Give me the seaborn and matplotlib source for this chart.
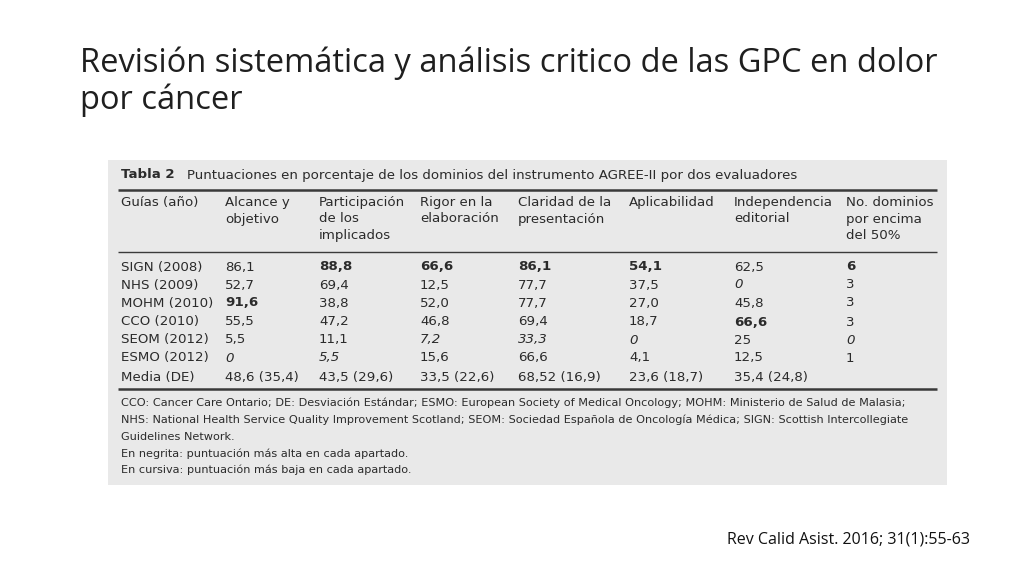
import matplotlib
matplotlib.use("Agg")
import matplotlib.pyplot as plt
from matplotlib.patches import Rectangle
from matplotlib import font_manager
import seaborn as sns

sns.set_theme(style="white")

names = {f.name for f in font_manager.fontManager.ttflist}
TFONT = "Liberation Sans Narrow" if "Liberation Sans Narrow" in names else "DejaVu Sans"
HFONT = "Open Sans" if "Open Sans" in names else "DejaVu Sans"

title = "Revisión sistemática y análisis critico de las GPC en dolor\npor cáncer"
citation = "Rev Calid Asist. 2016; 31(1):55-63"
caption_bold = "Tabla 2"
caption = "Puntuaciones en porcentaje de los dominios del instrumento AGREE-II por dos evaluadores"

headers = ["Guías (año)", "Alcance y\nobjetivo", "Participación\nde los\nimplicados",
           "Rigor en la\nelaboración", "Claridad de la\npresentación", "Aplicabilidad",
           "Independencia\neditorial", "No. dominios\npor encima\ndel 50%"]
guias = ["SIGN (2008)", "NHS (2009)", "MOHM (2010)", "CCO (2010)", "SEOM (2012)", "ESMO (2012)", "Media (DE)"]
alcance = ["86,1", "52,7", "91,6", "55,5", "5,5", "0", "48,6 (35,4)"]
participacion = ["88,8", "69,4", "38,8", "47,2", "11,1", "5,5", "43,5 (29,6)"]
rigor = ["66,6", "12,5", "52,0", "46,8", "7,2", "15,6", "33,5 (22,6)"]
claridad = ["86,1", "77,7", "77,7", "69,4", "33,3", "66,6", "68,52 (16,9)"]
aplicabilidad = ["54,1", "37,5", "27,0", "18,7", "0", "4,1", "23,6 (18,7)"]
independencia = ["62,5", "0", "45,8", "66,6", "25", "12,5", "35,4 (24,8)"]
dominios = ["6", "3", "3", "3", "0", "1", ""]
# (column, row) of bold (highest) and italic (lowest) cells
bold_cells = [(1, 2), (2, 0), (3, 0), (4, 0), (5, 0), (6, 3), (7, 0)]
italic_cells = [(1, 5), (2, 5), (3, 4), (4, 4), (5, 4), (6, 1), (7, 4)]
footnotes = [
    "CCO: Cancer Care Ontario; DE: Desviación Estándar; ESMO: European Society of Medical Oncology; MOHM: Ministerio de Salud de Malasia;",
    "NHS: National Health Service Quality Improvement Scotland; SEOM: Sociedad Española de Oncología Médica; SIGN: Scottish Intercollegiate",
    "Guidelines Network.",
    "En negrita: puntuación más alta en cada apartado.",
    "En cursiva: puntuación más baja en cada apartado.",
]

columns = [guias, alcance, participacion, rigor, claridad, aplicabilidad, independencia, dominios]

fig = plt.figure(figsize=(10.24, 5.76), dpi=100)
fig.patch.set_facecolor("white")
ax = fig.add_axes([0, 0, 1, 1])
ax.set_xlim(0, 1024)
ax.set_ylim(576, 0)
ax.axis("off")

ax.text(80, 47, title, fontsize=23.5, fontfamily=HFONT, color="#1f1f1f", va="top",
        linespacing=1.12)
ax.text(970, 540, citation, fontsize=11.5, fontfamily=HFONT, color="#111111", ha="right", va="center")

ax.add_patch(Rectangle((108, 160), 839, 325, facecolor="#e9e9e9", edgecolor="none"))
for y, lw in [(190, 1.8), (252, 1.0), (389, 1.8)]:
    ax.plot([118, 937], [y, y], color="#3a3a3a", lw=lw, solid_capstyle="butt")

tc = "#2b2b2b"
fs = 9.6
ax.text(121, 175, caption_bold, fontsize=fs, fontfamily=TFONT, fontweight="bold", color=tc, va="center")
ax.text(187, 175, caption, fontsize=fs, fontfamily=TFONT, color=tc, va="center")

col_x = [121, 225, 319, 420, 518, 629, 734, 846]
for x, h in zip(col_x, headers):
    ax.text(x, 196, h, fontsize=fs, fontfamily=TFONT, color=tc, va="top", linespacing=1.35)

row_y = [267, 285, 303, 322, 340, 358, 377]
for ci, (x, col) in enumerate(zip(col_x, columns)):
    for ri, (y, v) in enumerate(zip(row_y, col)):
        w = "bold" if (ci, ri) in bold_cells else "normal"
        st = "italic" if (ci, ri) in italic_cells else "normal"
        ax.text(x, y, v, fontsize=fs, fontfamily=TFONT, fontweight=w, fontstyle=st,
                color=tc, va="center")

for i, line in enumerate(footnotes):
    ax.text(121, 403 + i * 16.8, line, fontsize=8.1, fontfamily=TFONT, color=tc, va="center")

fig.savefig("out.png", dpi=100)
